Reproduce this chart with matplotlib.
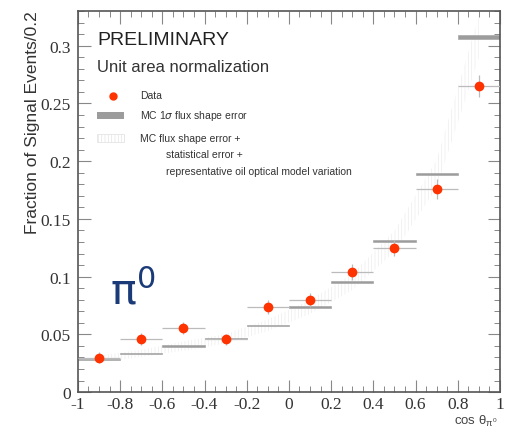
import numpy as np
import matplotlib
matplotlib.use("Agg")
import matplotlib.pyplot as plt
from matplotlib.patches import Rectangle

# cos theta bins (width 0.2)
bin_edges = np.linspace(-1.0, 1.0, 11)
# MC central value per bin and 1 sigma flux shape error
mc_vals = [0.0284, 0.0336, 0.0398, 0.0462, 0.0579, 0.0737, 0.0953, 0.1305, 0.189, 0.3075]
mc_flux_err = [0.0006, 0.0006, 0.0006, 0.0006, 0.0006, 0.0006, 0.0007, 0.0008, 0.0009, 0.0020]
# total MC error band (flux + stat + optical model)
mc_tot_err = [0.003, 0.003, 0.004, 0.004, 0.005, 0.006, 0.007, 0.009, 0.012, 0.018]
# data
data_vals = [0.0298, 0.0462, 0.0556, 0.0456, 0.0737, 0.0801, 0.104, 0.1246, 0.176, 0.265]
data_err = [0.005, 0.005, 0.005, 0.005, 0.006, 0.006, 0.007, 0.007, 0.0086, 0.0095]

centers = 0.5 * (bin_edges[:-1] + bin_edges[1:])
widths = np.diff(bin_edges)
mc = np.array(mc_vals)

SERIF = ["Liberation Serif", "DejaVu Serif"]
SANS = ["Liberation Sans", "DejaVu Sans"]
plt.rcParams["hatch.linewidth"] = 0.5

fig = plt.figure(figsize=(5.06, 4.31), dpi=100)
ax = fig.add_axes([0.154, 0.088, 0.834, 0.884])

# total error band through bin centres (ROOT E3 style), faint hatch
ax.fill_between(centers, mc - np.array(mc_tot_err), mc + np.array(mc_tot_err),
                facecolor="none", edgecolor="#ececec", hatch="|||||", lw=0, zorder=1)

# MC 1 sigma flux shape error boxes
for x0, w, v, e in zip(bin_edges[:-1], widths, mc_vals, mc_flux_err):
    ax.add_patch(Rectangle((x0, v - e), w, 2 * e, facecolor="#9c9c9c",
                           edgecolor="#a8a8a8", lw=0.5, zorder=2))

# data points
ax.errorbar(centers, data_vals, xerr=widths / 2, yerr=data_err, fmt="none",
            ecolor="#bbbbbb", elinewidth=0.9, capsize=0, zorder=3)
ax.plot(centers, data_vals, "o", color="#ff3300", ms=6, mec="#ff3300", zorder=4)

ax.set_xlim(-1, 1)
ax.set_ylim(0, 0.33)
ax.set_xticks(np.arange(-1, 1.01, 0.2))
ax.set_xticklabels(["-1", "-0.8", "-0.6", "-0.4", "-0.2", "0", "0.2", "0.4", "0.6", "0.8", "1"])
ax.set_yticks([0, 0.05, 0.1, 0.15, 0.2, 0.25, 0.3])
ax.set_yticklabels(["0", "0.05", "0.1", "0.15", "0.2", "0.25", "0.3"])
ax.set_xticks(np.arange(-1, 1.01, 0.05), minor=True)
ax.set_yticks(np.arange(0, 0.331, 0.01), minor=True)
ax.tick_params(which="both", direction="in", top=True, right=True, color="#888888")
ax.tick_params(which="major", length=9, width=0.8, labelsize=12.5, pad=5)
ax.tick_params(axis="x", which="major", pad=2.5)
ax.tick_params(which="minor", length=4.5, width=0.7)
for lab in ax.get_xticklabels() + ax.get_yticklabels():
    lab.set_family(SERIF)
    lab.set_color("#333333")
for sp in ax.spines.values():
    sp.set_color("#555555")
    sp.set_linewidth(1.2)

fig.text(0.065, 0.975, "Fraction of Signal Events/0.2", rotation=90, ha="center", va="top",
         fontsize=12.5, family=SANS, color="#333333")
fig.text(0.983, 0.004, r"cos $\mathregular{\theta_{\pi^0}}$", ha="right", va="bottom",
         fontsize=9.5, family=SANS, color="#444444")

# legend block
ax.text(0.045, 0.925, "PRELIMINARY", transform=ax.transAxes, fontsize=14,
        family=SANS, color="#222222", va="center")
ax.text(0.045, 0.855, "Unit area normalization", transform=ax.transAxes, fontsize=12,
        family=SANS, color="#333333", va="center")
ax.plot([0.083], [0.777], "o", transform=ax.transAxes, color="#ff3300", ms=5, clip_on=False)
ax.text(0.147, 0.780, "Data", transform=ax.transAxes, fontsize=7.5, family=SANS,
        color="#333333", va="center")
ax.add_patch(Rectangle((0.045, 0.717), 0.064, 0.018, transform=ax.transAxes,
                       facecolor="#9c9c9c", edgecolor="none"))
ax.text(0.147, 0.726, r"MC 1$\sigma$ flux shape error", transform=ax.transAxes,
        fontsize=7.5, family=SANS, color="#333333", va="center")
ax.add_patch(Rectangle((0.045, 0.657), 0.064, 0.02, transform=ax.transAxes,
                       facecolor="none", edgecolor="#e4e4e4", hatch="|||||", lw=0.6))
ax.text(0.147, 0.668, "MC flux shape error +", transform=ax.transAxes,
        fontsize=7.5, family=SANS, color="#333333", va="center")
ax.text(0.208, 0.626, "statistical error +", transform=ax.transAxes,
        fontsize=7.5, family=SANS, color="#333333", va="center")
ax.text(0.208, 0.580, "representative oil optical model variation", transform=ax.transAxes,
        fontsize=7.5, family=SANS, color="#333333", va="center")

# pi0 label
ax.text(0.075, 0.265, r"$\mathregular{\pi^0}$", transform=ax.transAxes, fontsize=31,
        family="DejaVu Sans", color="#1a3a78", va="center")

fig.savefig("out.png", dpi=100)
